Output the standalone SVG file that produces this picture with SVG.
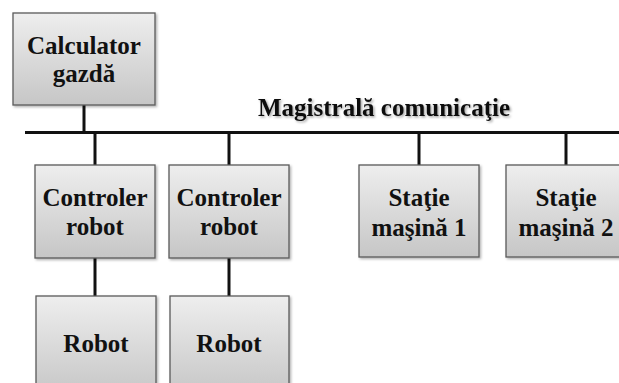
<svg xmlns="http://www.w3.org/2000/svg" width="619" height="383" viewBox="0 0 619 383">
<defs>
<linearGradient id="g" x1="0" y1="0" x2="0" y2="1">
<stop offset="0" stop-color="#eeeeee"/>
<stop offset="1" stop-color="#c6c6c6"/>
</linearGradient>
<filter id="sh" x="-10%" y="-10%" width="130%" height="130%">
<feDropShadow dx="1.5" dy="1.5" stdDeviation="1" flood-color="#000" flood-opacity="0.3"/>
</filter>
<filter id="ts" x="-5%" y="-20%" width="110%" height="150%">
<feDropShadow dx="1.5" dy="1.5" stdDeviation="0.8" flood-color="#000" flood-opacity="0.35"/>
</filter>
</defs>
<style>
.box{fill:url(#g);stroke:#5a5a5a;stroke-width:1.3;filter:url(#sh)}
.t{font-family:"Liberation Serif","Times New Roman","DejaVu Serif",serif;font-weight:bold;font-size:25px;fill:#111;text-anchor:middle}
.ln{stroke:#111;stroke-width:3;fill:none}
</style>
<rect width="619" height="383" fill="#fff"/>
<g id="connectors">
<line class="ln" x1="25" y1="132.5" x2="619" y2="132.5"/>
<line class="ln" x1="84" y1="105" x2="84" y2="132"/>
<line class="ln" x1="95" y1="133" x2="95" y2="165"/>
<line class="ln" x1="229" y1="133" x2="229" y2="165"/>
<line class="ln" x1="419" y1="133" x2="419" y2="165"/>
<line class="ln" x1="566" y1="133" x2="566" y2="165"/>
<line class="ln" x1="95" y1="258" x2="95" y2="296"/>
<line class="ln" x1="229" y1="258" x2="229" y2="296"/>
</g>
<g id="bus-label">
<text class="t" x="384" y="116" filter="url(#ts)">Magistrală comunicaţie</text>
</g>
<g id="calculator">
<rect class="box" x="13" y="13" width="142" height="92"/>
<text class="t" x="84" y="54">Calculator</text>
<text class="t" x="84" y="82">gazdă</text>
</g>
<g id="controler1">
<rect class="box" x="35" y="165" width="120" height="93"/>
<text class="t" x="95" y="206">Controler</text>
<text class="t" x="95" y="235">robot</text>
</g>
<g id="controler2">
<rect class="box" x="169" y="165" width="120" height="93"/>
<text class="t" x="229" y="206">Controler</text>
<text class="t" x="229" y="235">robot</text>
</g>
<g id="statie1">
<rect class="box" x="359" y="165" width="120" height="92"/>
<text class="t" x="419" y="206">Staţie</text>
<text class="t" x="419" y="236">maşină 1</text>
</g>
<g id="statie2">
<rect class="box" x="506" y="165" width="120" height="92"/>
<text class="t" x="566" y="206">Staţie</text>
<text class="t" x="566" y="236">maşină 2</text>
</g>
<g id="robot1">
<rect class="box" x="36" y="296" width="120" height="100"/>
<text class="t" x="96" y="352">Robot</text>
</g>
<g id="robot2">
<rect class="box" x="170" y="296" width="119" height="100"/>
<text class="t" x="229" y="352">Robot</text>
</g>
</svg>
